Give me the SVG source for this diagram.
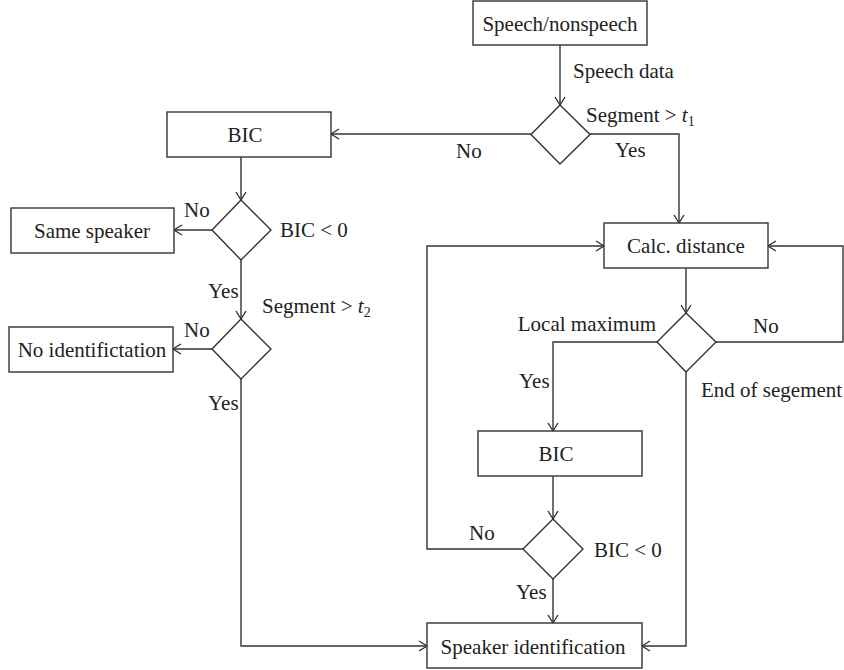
<svg xmlns="http://www.w3.org/2000/svg" width="844" height="670" viewBox="0 0 844 670">
  <defs>
    <marker id="arrow" viewBox="-10 -7 12 14" refX="0" refY="0" markerWidth="12" markerHeight="14" markerUnits="userSpaceOnUse" orient="auto">
      <path d="M-8,-5 L0,0 L-8,5" fill="none" stroke="#333" stroke-width="1.4"/>
    </marker>
    <style>
      .box { fill: #fff; stroke: #333; stroke-width: 1.4; }
      .edge { fill: none; stroke: #333; stroke-width: 1.4; }
      .arr { marker-end: url(#arrow); }
      text { font-family: "Liberation Serif", "Times New Roman", serif; font-size: 21px; fill: #222; }
      .c { text-anchor: middle; }
      .e { text-anchor: end; }
      .it { font-style: italic; }
      .sub { font-size: 14px; }
    </style>
  </defs>

  <!-- connectors -->
  <g id="connectors">
    <path class="edge arr" d="M560,45 V105"/>
    <path class="edge arr" d="M531,134 H331"/>
    <path class="edge arr" d="M590,134 H679 V223"/>
    <path class="edge arr" d="M241,157 V200"/>
    <path class="edge arr" d="M212,230 H174"/>
    <path class="edge arr" d="M241,260 V319"/>
    <path class="edge arr" d="M212,349 H173"/>
    <path class="edge arr" d="M241,379 V646 H427"/>
    <path class="edge arr" d="M686,268 V313"/>
    <path class="edge arr" d="M716,342 H843 V246 H768"/>
    <path class="edge arr" d="M657,342 H553 V431"/>
    <path class="edge arr" d="M686,372 V646 H642"/>
    <path class="edge arr" d="M553,476 V519"/>
    <path class="edge arr" d="M523,549 H427 V246 H604"/>
    <path class="edge arr" d="M553,579 V623"/>

    <!-- branch labels -->
    <text x="573" y="78">Speech data</text>
    <text x="586" y="122">Segment &gt; <tspan class="it">t</tspan><tspan class="sub" dy="4">1</tspan></text>
    <text x="615" y="157">Yes</text>
    <text x="456" y="158">No</text>
    <text x="184" y="217">No</text>
    <text x="280" y="237">BIC &lt; 0</text>
    <text x="208" y="298">Yes</text>
    <text x="262" y="313">Segment &gt; <tspan class="it">t</tspan><tspan class="sub" dy="4">2</tspan></text>
    <text x="184" y="337">No</text>
    <text x="208" y="410">Yes</text>
    <text class="e" x="656" y="331">Local maximum</text>
    <text x="753" y="333">No</text>
    <text x="519" y="388">Yes</text>
    <text x="701" y="397">End of segement</text>
    <text x="469" y="540">No</text>
    <text x="594" y="557">BIC &lt; 0</text>
    <text x="516" y="599">Yes</text>
  </g>

  <g id="speech-nonspeech">
    <rect class="box" x="473" y="1" width="174" height="44"/>
    <text class="c" x="560" y="31">Speech/nonspeech</text>
  </g>
  <g id="segment-t1">
    <polygon class="box" points="560,105 590,134.5 560,164 531,134.5"/>
  </g>
  <g id="bic-top">
    <rect class="box" x="167" y="112" width="164" height="45"/>
    <text class="c" x="245" y="142">BIC</text>
  </g>
  <g id="bic-test-1">
    <polygon class="box" points="241,200 271,230 241,260 212,230"/>
  </g>
  <g id="same-speaker">
    <rect class="box" x="11" y="208" width="163" height="45"/>
    <text class="c" x="92" y="238">Same speaker</text>
  </g>
  <g id="segment-t2">
    <polygon class="box" points="241,319 271,349 241,379 212,349"/>
  </g>
  <g id="no-identification">
    <rect class="box" x="9" y="327" width="164" height="45"/>
    <text class="c" x="92" y="357">No identifictation</text>
  </g>
  <g id="calc-distance">
    <rect class="box" x="604" y="223" width="164" height="45"/>
    <text class="c" x="686" y="253">Calc. distance</text>
  </g>
  <g id="local-maximum">
    <polygon class="box" points="686,313 716,342 686,372 657,342"/>
  </g>
  <g id="bic-bottom">
    <rect class="box" x="478" y="431" width="164" height="45"/>
    <text class="c" x="556" y="461">BIC</text>
  </g>
  <g id="bic-test-2">
    <polygon class="box" points="553,519 583,549 553,579 523,549"/>
  </g>
  <g id="speaker-identification">
    <rect class="box" x="427" y="623" width="215" height="45"/>
    <text class="c" x="533" y="654">Speaker identification</text>
  </g>
</svg>
